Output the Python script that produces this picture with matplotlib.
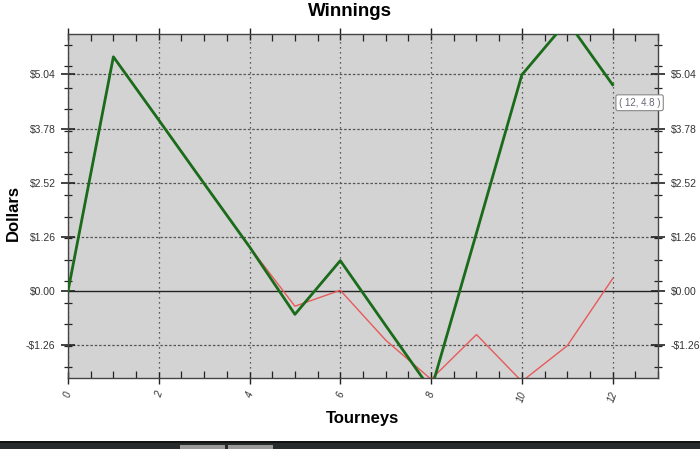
import matplotlib
matplotlib.use("Agg")
import matplotlib.pyplot as plt
from matplotlib.patches import Rectangle
from matplotlib.ticker import FixedLocator, MultipleLocator
import numpy as np

plt.rcParams['font.family'] = ['Liberation Sans', 'DejaVu Sans']

# Data
tourneys = [0, 1, 2, 3, 4, 5, 6, 7, 8, 9, 10, 11, 12]
winnings_green = [0.0, 5.45, 3.98, 2.50, 1.03, -0.54, 0.71, -0.80, -2.30, 1.35, 5.03, 6.28, 4.80]
winnings_red = [0.0, 5.45, 3.98, 2.50, 1.03, -0.35, 0.02, -1.14, -2.05, -1.01, -2.10, -1.27, 0.29]
y_major = [-1.26, 0.00, 1.26, 2.52, 3.78, 5.04]
y_labels = ['-$1.26', '$0.00', '$1.26', '$2.52', '$3.78', '$5.04']
x_major = [0, 2, 4, 6, 8, 10, 12]
tooltip_text = '( 12, 4.8 )'

W, H = 700, 449
fig = plt.figure(figsize=(7.0, 4.49), dpi=100)
fig.patch.set_facecolor('white')
ax = fig.add_axes([68 / W, 1 - 378 / H, (658 - 68) / W, (378 - 34) / H])
ax.set_facecolor('#d3d3d3')

ax.set_xlim(0, 13)
ax.set_ylim(-2.02, 5.98)

# grid
for xv in x_major:
    ax.axvline(xv, color='#333333', lw=0.9, ls=(0, (1, 3)), zorder=1)
for yv in y_major:
    if yv == 0:
        ax.axhline(0, color='#222222', lw=1.0, zorder=1)
    else:
        ax.axhline(yv, color='#555555', lw=0.9, ls=(0, (2, 1.5)), zorder=1)

ax.plot(tourneys, winnings_red, color='#e85a5a', lw=1.0, zorder=2)
ax.plot(tourneys, winnings_green, color='#1a6b1a', lw=2.0, zorder=3)

# ticks
ax.xaxis.set_major_locator(FixedLocator(x_major))
ax.xaxis.set_minor_locator(MultipleLocator(0.5))
ax.set_xticklabels([str(v) for v in x_major], rotation=70, fontsize=7,
                   style='italic', color='#333333')
ax.yaxis.set_major_locator(FixedLocator(y_major))
ax.yaxis.set_minor_locator(FixedLocator(list(np.arange(-1.77, 5.98, 0.5))))
ax.set_yticklabels(y_labels, fontsize=7.5, color='#333333')

ax.tick_params(axis='x', which='major', direction='inout', length=9, width=1.0,
               top=True, bottom=True, color='#222222', pad=4)
ax.tick_params(axis='x', which='minor', direction='in', length=5, width=0.9,
               top=True, bottom=True, color='#222222')
ax.tick_params(axis='y', which='major', direction='inout', length=10, width=1.2,
               left=True, right=True, labelleft=True, labelright=True,
               color='#222222', pad=4)
ax.tick_params(axis='y', which='minor', direction='inout', length=6, width=0.9,
               left=True, right=True, color='#222222')

for sp in ax.spines.values():
    sp.set_color('#444444')
    sp.set_linewidth(1.0)

fig.text(0.5, 1 - 11.5 / H, 'Winnings', fontsize=13.5, fontweight='bold',
         ha='center', va='center')
ax.set_xlabel('Tourneys', fontsize=12, fontweight='bold')
ax.set_ylabel('Dollars', fontsize=12, fontweight='bold')
ax.xaxis.set_label_coords(0.5, (378 - 419) / 344, transform=ax.transAxes)
ax.yaxis.set_label_coords((13 - 68) / 590, (378 - 213) / 344, transform=ax.transAxes)
ax.xaxis.label.set_va('center')
ax.yaxis.label.set_va('center')

ax.annotate(tooltip_text, xy=(12, 4.8), xytext=(27, -18), textcoords='offset pixels',
            ha='center', va='center', fontsize=7, color='#666677',
            bbox=dict(boxstyle='round,pad=0.3,rounding_size=0.2', fc='white',
                      ec='#888888', lw=0.8),
            annotation_clip=False, zorder=5)

# bottom window strip
fig.patches.append(Rectangle((0, 0), 1, 8 / H, transform=fig.transFigure,
                             fc='#262a2a', ec='none', zorder=0))
fig.patches.append(Rectangle((0, 6 / H), 1, 2.5 / H, transform=fig.transFigure,
                             fc='#111111', ec='none', zorder=1))
for x0, x1 in [(180, 225), (228, 273)]:
    fig.patches.append(Rectangle((x0 / W, 0), (x1 - x0) / W, 4.5 / H,
                                 transform=fig.transFigure, fc='#9a9a9a',
                                 ec='none', zorder=2))

fig.savefig('out.png', dpi=100)
